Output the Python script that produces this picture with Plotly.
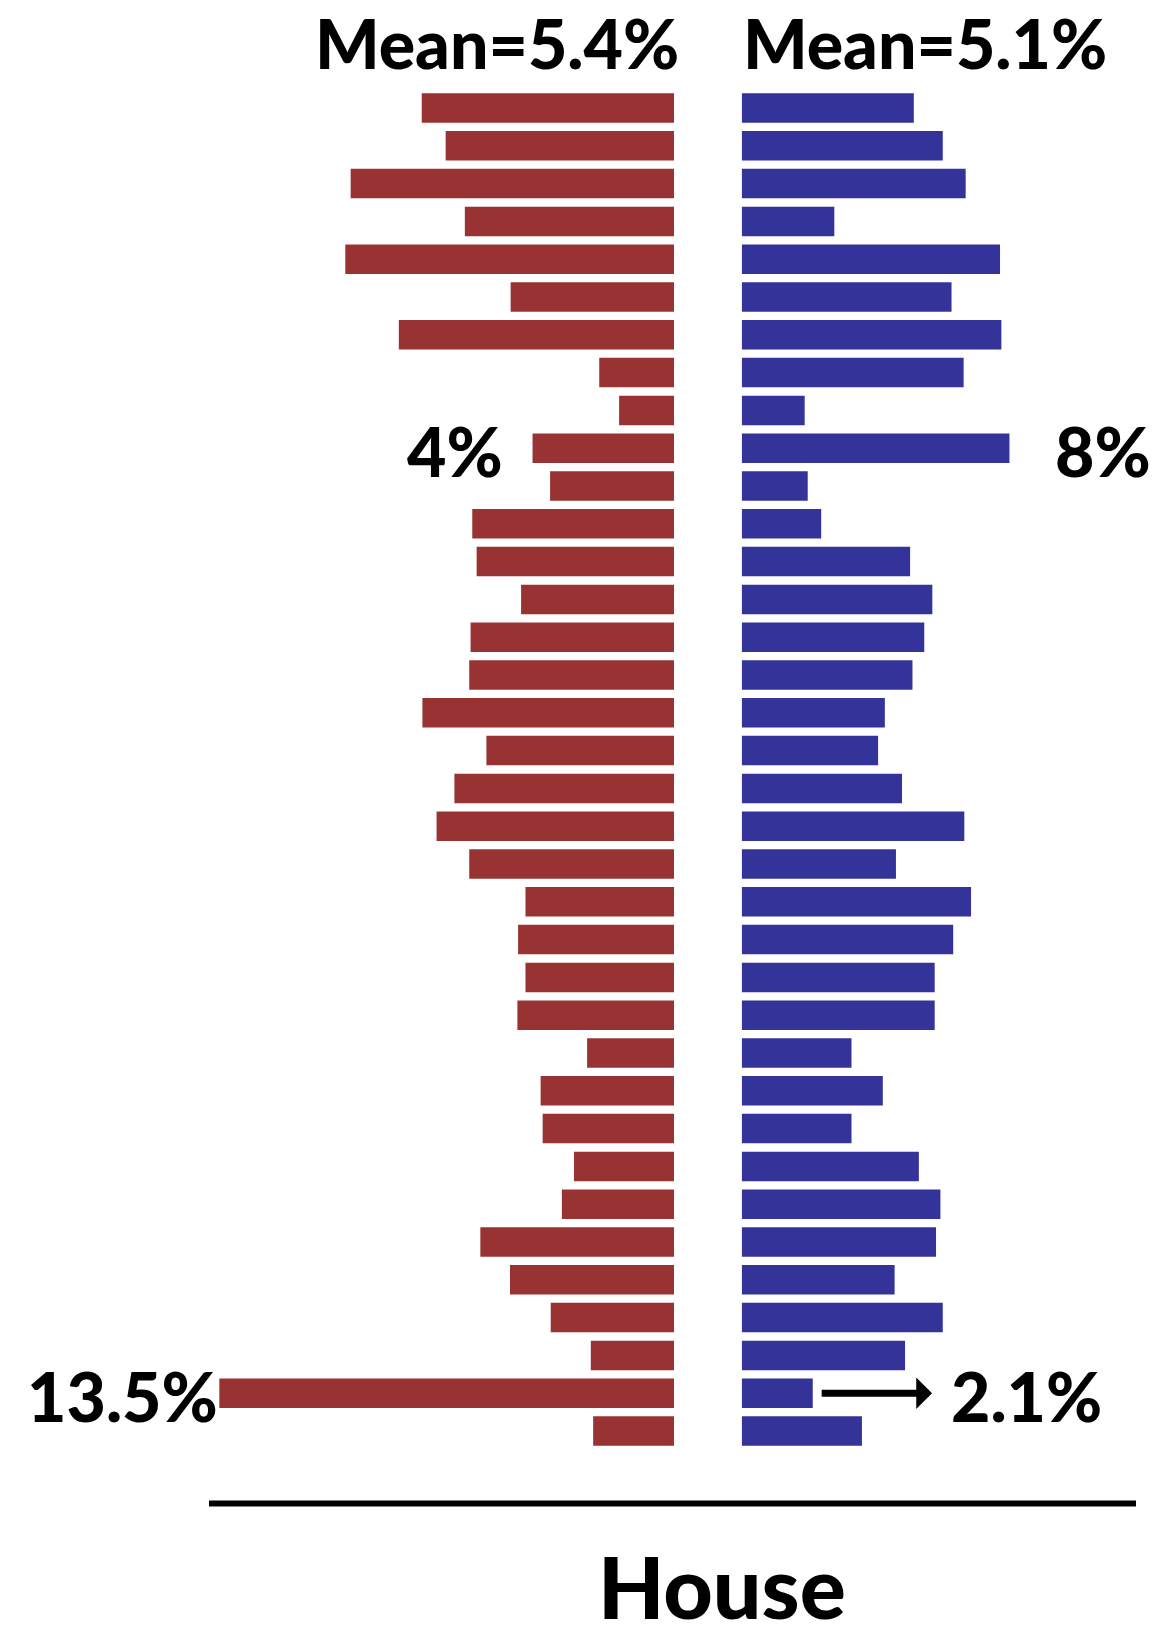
import plotly.graph_objects as go

rows = list(range(36))
dem = [7.49, 6.78, 9.6, 6.21, 9.76, 4.85, 8.17, 2.22, 1.63, 4.2, 3.68, 5.99, 5.86, 4.54,
       6.04, 6.08, 7.47, 5.57, 6.52, 7.05, 6.08, 4.41, 4.63, 4.41, 4.65, 2.58, 3.96, 3.9,
       2.97, 3.33, 5.75, 4.87, 3.66, 2.47, 13.5, 2.4]
rep = [5.11, 5.97, 6.65, 2.75, 7.67, 6.23, 7.71, 6.59, 1.87, 7.95, 1.96, 2.36, 5.0, 5.66,
       5.42, 5.07, 4.25, 4.05, 4.76, 6.61, 4.58, 6.81, 6.28, 5.73, 5.73, 3.26, 4.19, 3.26,
       5.26, 5.9, 5.77, 4.54, 5.97, 4.85, 2.11, 3.57]
mean_labels = ["Mean=5.4%", "Mean=5.1%"]
title = "House"

W, H = 1161, 1639
PXP = 33.68          # pixels per percent
RED_EDGE = 674       # px
BLUE_EDGE = 741.7    # px
Y0, DY = 108, 37.8

RED = "#993333"
BLUE = "#333399"
FONT = "Lato"

fig = go.Figure()
fig.add_trace(go.Bar(y=rows, x=dem, orientation="h", marker_color=RED,
                     marker_line_width=0, xaxis="x", yaxis="y", showlegend=False))
fig.add_trace(go.Bar(y=rows, x=rep, orientation="h", marker_color=BLUE,
                     marker_line_width=0, xaxis="x2", yaxis="y", showlegend=False))

def py(p):
    return 1 - p / H

font_big = dict(family=FONT, size=68, color="black", weight=900)

annotations = [
    dict(text=mean_labels[0], xref="paper", yref="paper", x=681 / W, y=1,
         xanchor="right", yanchor="top", showarrow=False, font=font_big),
    dict(text=mean_labels[1], xref="paper", yref="paper", x=741 / W, y=1,
         xanchor="left", yanchor="top", showarrow=False, font=font_big),
    dict(text="4%", xref="x", yref="y", x=dem[9], y=rows[9], xanchor="right",
         yanchor="middle", xshift=-28, yshift=-2, showarrow=False, font=font_big),
    dict(text="8%", xref="x2", yref="y", x=rep[9], y=rows[9], xanchor="left",
         yanchor="middle", xshift=44, yshift=-2, showarrow=False, font=font_big),
    dict(text="13.5%", xref="x", yref="y", x=dem[34], y=rows[34], xanchor="right",
         yanchor="middle", xshift=1, yshift=-2, showarrow=False, font=font_big),
    dict(text="2.1%", xref="x2", yref="y", x=rep[34], y=rows[34], xanchor="left",
         yanchor="middle", xshift=136, yshift=-2, showarrow=False, font=font_big),
    dict(text="", xref="x2", yref="y", x=5.65, y=rows[34],
         axref="x2", ayref="y", ax=2.33, ay=rows[34],
         showarrow=True, arrowhead=1, arrowsize=0.75, arrowwidth=7, arrowcolor="black"),
    dict(text=title, xref="paper", yref="paper", x=722 / W, y=0,
         xanchor="center", yanchor="bottom", showarrow=False,
         font=dict(family=FONT, size=86, color="black", weight=900)),
]

shapes = [dict(type="line", xref="paper", yref="paper", x0=209 / W, x1=1136 / W,
               y0=py(1503.5), y1=py(1503.5), line=dict(color="black", width=6))]

fig.update_layout(
    width=W, height=H, margin=dict(l=0, r=0, t=0, b=0),
    paper_bgcolor="white", plot_bgcolor="white",
    bargap=0.22,
    xaxis=dict(domain=[0, RED_EDGE / W], range=[RED_EDGE / PXP, 0],
               visible=False, fixedrange=True),
    xaxis2=dict(domain=[BLUE_EDGE / W, 1], range=[0, (W - BLUE_EDGE) / PXP],
                visible=False, fixedrange=True),
    yaxis=dict(range=[(H - Y0) / DY, -Y0 / DY], visible=False, fixedrange=True),
    annotations=annotations, shapes=shapes,
)

fig.write_html("out.html", config={"displayModeBar": False},
               post_script="document.body.style.margin='0';document.body.style.overflow='hidden';")
